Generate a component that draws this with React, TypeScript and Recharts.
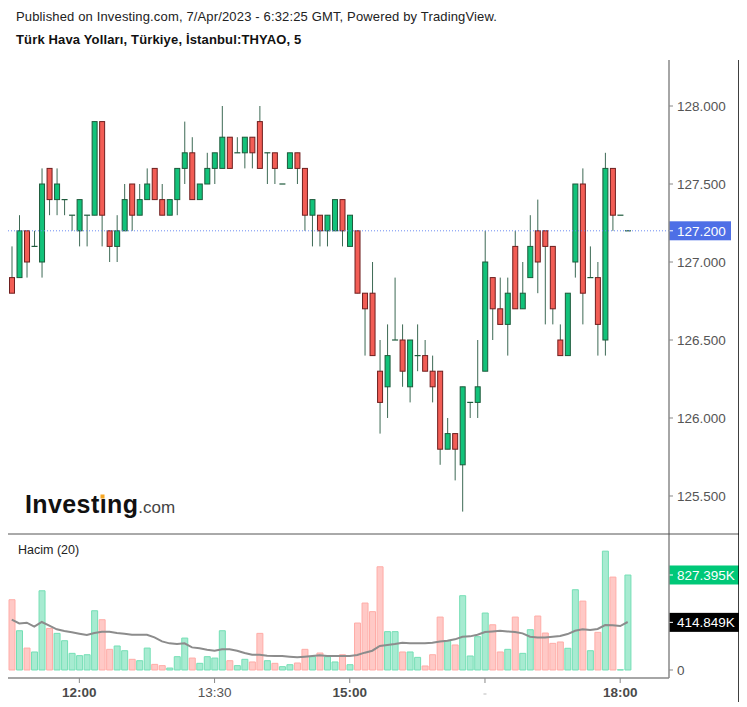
import React from 'react';
import { ComposedChart, Bar, Line, XAxis, YAxis, Cell, ReferenceLine } from 'recharts';

// 5 minute bars, THYAO 7 Apr 2023 (plus a few empty slots on the right)
const times = [
  '11:15', '11:20', '11:25', '11:30', '11:35', '11:40', '11:45', '11:50', '11:55',
  '12:00', '12:05', '12:10', '12:15', '12:20', '12:25', '12:30', '12:35', '12:40', '12:45', '12:50', '12:55',
  '13:00', '13:05', '13:10', '13:15', '13:20', '13:25', '13:30', '13:35', '13:40', '13:45', '13:50', '13:55',
  '14:00', '14:05', '14:10', '14:15', '14:20', '14:25', '14:30', '14:35', '14:40', '14:45', '14:50', '14:55',
  '15:00', '15:05', '15:10', '15:15', '15:20', '15:25', '15:30', '15:35', '15:40', '15:45', '15:50', '15:55',
  '16:00', '16:05', '16:10', '16:15', '16:20', '16:25', '16:30', '16:35', '16:40', '16:45', '16:50', '16:55',
  '17:00', '17:05', '17:10', '17:15', '17:20', '17:25', '17:30', '17:35', '17:40', '17:45', '17:50', '17:55',
  '18:00', '18:05', '18:10', '18:15', '18:20', '18:25', '18:30',
];

const opens = [
  126.9, 126.9, 127.2, 127.1, 127.0, 127.6, 127.4, 127.4, 127.3, 127.2,
  127.3, 127.3, 127.9, 127.2, 127.1, 127.2, 127.5, 127.3, 127.4, 127.6,
  127.4, 127.3, 127.4, 127.6, 127.7, 127.4, 127.5, 127.6, 127.6, 127.8,
  127.7, 127.7, 127.8, 127.9, 127.7, 127.7, 127.5, 127.6, 127.7, 127.6,
  127.3, 127.3, 127.2, 127.2, 127.4, 127.1, 127.2, 126.8, 126.8, 126.3,
  126.2, 126.5, 126.5, 126.2, 126.4, 126.4, 126.3, 126.3, 125.8, 125.9,
  125.7, 126.1, 126.1, 126.3, 126.9, 126.7, 126.6, 127.1, 126.7, 126.9,
  127.2, 127.2, 127.1, 126.5, 126.4, 127.0, 127.5, 126.9, 126.9, 126.5,
  127.6, 127.3, 127.2,
];
const highs = [
  127.1, 127.3, 127.2, 127.2, 127.6, 127.6, 127.6, 127.4, 127.3, 127.4,
  127.3, 127.9, 127.9, 127.2, 127.3, 127.5, 127.5, 127.5, 127.6, 127.6,
  127.5, 127.4, 127.6, 127.9, 127.8, 127.5, 127.7, 127.7, 128.0, 127.8,
  127.8, 127.8, 127.8, 128.0, 127.7, 127.7, 127.5, 127.7, 127.7, 127.6,
  127.4, 127.3, 127.3, 127.4, 127.4, 127.3, 127.2, 126.8, 127.0, 126.5,
  126.6, 126.9, 126.6, 126.5, 126.6, 126.5, 126.4, 126.3, 126.0, 125.9,
  126.2, 126.1, 126.5, 127.2, 126.9, 126.9, 126.9, 127.2, 127.0, 127.3,
  127.4, 127.2, 127.1, 126.6, 126.8, 127.5, 127.6, 127.1, 127.0, 127.7,
  127.6, 127.3, 127.2,
];
const lows = [
  126.8, 126.9, 126.9, 127.1, 126.9, 127.3, 127.3, 127.3, 127.2, 127.1,
  127.1, 127.3, 127.1, 127.0, 127.0, 127.2, 127.2, 127.3, 127.4, 127.4,
  127.3, 127.3, 127.3, 127.5, 127.4, 127.4, 127.5, 127.5, 127.6, 127.6,
  127.7, 127.6, 127.6, 127.6, 127.5, 127.5, 127.5, 127.6, 127.5, 127.2,
  127.1, 127.1, 127.1, 127.2, 127.1, 127.1, 126.8, 126.4, 126.4, 125.9,
  126.0, 126.5, 126.2, 126.1, 126.3, 126.3, 126.1, 125.7, 125.8, 125.6,
  125.4, 126.0, 126.0, 126.3, 126.5, 126.6, 126.4, 126.7, 126.7, 126.9,
  126.8, 126.6, 126.6, 126.4, 126.4, 126.9, 126.6, 126.9, 126.4, 126.4,
  127.2, 127.3, 127.2,
];
const closes = [
  126.8, 127.2, 127.0, 127.1, 127.5, 127.4, 127.5, 127.4, 127.3, 127.4,
  127.3, 127.9, 127.3, 127.1, 127.2, 127.4, 127.3, 127.4, 127.5, 127.4,
  127.3, 127.4, 127.6, 127.7, 127.4, 127.5, 127.6, 127.7, 127.8, 127.6,
  127.7, 127.8, 127.7, 127.6, 127.7, 127.6, 127.5, 127.7, 127.6, 127.3,
  127.4, 127.2, 127.3, 127.4, 127.2, 127.3, 126.8, 126.7, 126.4, 126.1,
  126.4, 126.5, 126.3, 126.5, 126.4, 126.3, 126.2, 125.8, 125.9, 125.8,
  126.2, 126.1, 126.2, 127.0, 126.7, 126.6, 126.8, 126.7, 126.8, 127.1,
  127.0, 127.1, 126.7, 126.4, 126.8, 127.5, 126.8, 126.9, 126.6, 127.6,
  127.3, 127.3, 127.2,
];

// volume in thousands
const volumes = [
  612, 342, 191, 157, 690, 362, 319, 255, 145, 125,
  133, 516, 438, 180, 209, 168, 93, 81, 191, 49,
  38, 17, 116, 278, 104, 58, 116, 104, 342, 81,
  38, 93, 70, 319, 81, 58, 29, 46, 61, 180,
  116, 148, 116, 70, 133, 46, 409, 583, 508, 899,
  334, 334, 157, 157, 110, 35, 133, 461, 255, 218,
  647, 122, 290, 496, 394, 157, 180, 461, 145, 351,
  470, 322, 232, 244, 189, 699, 600, 168, 328, 1035,
  809, 2, 827,
];
// Hacim (20) moving average, in thousands
const volumeMa = [
  438, 406, 412, 377, 418, 386, 354, 339, 328, 316,
  305, 322, 334, 334, 322, 316, 307, 307, 307, 284,
  249, 232, 226, 232, 197, 189, 177, 168, 180, 180,
  168, 148, 133, 133, 125, 122, 122, 116, 110, 116,
  122, 128, 122, 122, 122, 122, 130, 151, 168, 209,
  218, 226, 238, 232, 232, 232, 238, 249, 255, 267,
  290, 293, 307, 331, 336, 342, 336, 331, 319, 290,
  284, 284, 290, 296, 313, 342, 354, 348, 357, 391,
  389, 383, 418,
];

const priceTicks = [125.5, 126, 126.5, 127, 127.5, 128];
const timeTicks = ['12:00', '13:30', '15:00', '16:30', '18:00'];
const lastPrice = 127.2;
const lastVolume = 827.395;
const lastVolumeMa = 414.849;

const FONT = '"Liberation Sans", Arial, Helvetica, sans-serif';
const UP = '#12c27a';
const UP_BORDER = '#1d5a3b';
const DOWN = '#f25d55';
const DOWN_BORDER = '#6e1f1f';
const WICK = '#3d6a55';

const data = times.map((time, i) =>
  i < opens.length
    ? {
        time,
        open: opens[i],
        high: highs[i],
        low: lows[i],
        close: closes[i],
        range: [lows[i], highs[i]],
        vol: volumes[i],
        ma: volumeMa[i],
      }
    : { time }
);

const Candle = (props: any) => {
  const { x, y, width, height, payload } = props;
  if (!payload || payload.open == null) return null;
  const { open, high, low, close } = payload;
  const cx = x + width / 2;
  const top = Math.min(y, y + height);
  const h = Math.abs(height);
  const ppu = high > low ? h / (high - low) : 0;
  const yOf = (v: number) => top + (high - v) * ppu;
  const up = close >= open;
  const bTop = yOf(Math.max(open, close));
  const bBot = yOf(Math.min(open, close));
  return (
    <g>
      {h > 0 && <line x1={cx} x2={cx} y1={top} y2={top + h} stroke={WICK} strokeWidth={1} />}
      {bBot - bTop > 0.5 ? (
        <rect
          x={cx - 2.5}
          y={bTop}
          width={5}
          height={bBot - bTop}
          fill={up ? UP : DOWN}
          stroke={up ? UP_BORDER : DOWN_BORDER}
          strokeWidth={1}
        />
      ) : (
        <line x1={cx - 3} x2={cx + 3} y1={bTop} y2={bTop} stroke={UP_BORDER} strokeWidth={1.2} />
      )}
    </g>
  );
};

const Badge = ({ viewBox, text, fill, w }: any) => {
  if (!viewBox) return null;
  const bx = viewBox.x + viewBox.width;
  const by = viewBox.y;
  return (
    <g>
      <rect x={bx} y={by - 9.5} width={w} height={19} fill={fill} />
      <line x1={bx} x2={bx + 4} y1={by} y2={by} stroke="#fff" strokeWidth={1} />
      <text x={bx + 8} y={by + 5} fontSize={13.5} fill="#fff" fontFamily={FONT}>
        {text}
      </text>
    </g>
  );
};

const TimeTick = (props: any) => {
  const { x, y, payload } = props;
  const label = payload.value;
  if (label === '16:30') {
    return (
      <line x1={x - 1.5} x2={x + 1.5} y1={y + 9} y2={y + 9} stroke="#bbb" strokeWidth={1} />
    );
  }
  const bold = label !== '13:30';
  return (
    <text
      x={x}
      y={y + 12}
      textAnchor="middle"
      fontSize={13.5}
      fontWeight={bold ? 700 : 400}
      fill={bold ? '#4a4a4a' : '#555'}
      fontFamily={FONT}
    >
      {label}
    </text>
  );
};

export default function App() {
  return (
    <div style={{ position: 'relative', width: 731, height: 699, fontFamily: FONT, background: '#fff' }}>
      <div style={{ position: 'absolute', left: 0, top: 52 }}>
        <ComposedChart width={731} height={474} data={data} margin={{ top: 0, right: 0, bottom: 0, left: 0 }}>
          <XAxis dataKey="time" hide />
          <YAxis
            orientation="right"
            width={70}
            domain={[125.2564, 128.2949]}
            allowDataOverflow
            ticks={priceTicks}
            tickFormatter={(v: number) => v.toFixed(3)}
            axisLine={{ stroke: '#888', strokeWidth: 1.5 }}
            tickLine={{ stroke: '#888' }}
            tickSize={4}
            tickMargin={4}
            tick={{ fill: '#555', fontSize: 13.5, fontFamily: FONT, textAnchor: 'start' }}
          />
          <ReferenceLine
            y={lastPrice}
            stroke="#6d8cf2"
            strokeDasharray="1 2"
            label={(p: any) => <Badge {...p} text={lastPrice.toFixed(3)} fill="#4e6fe6" w={62} />}
          />
          <Bar dataKey="range" barSize={6} shape={<Candle />} isAnimationActive={false} />
        </ComposedChart>
      </div>

      <div style={{ position: 'absolute', left: 0, top: 526 }}>
        <ComposedChart width={731} height={168} data={data} margin={{ top: 0, right: 0, bottom: 0, left: 0 }}>
          <XAxis
            dataKey="time"
            height={24}
            ticks={timeTicks}
            interval={0}
            axisLine={{ stroke: '#888', strokeWidth: 1.5 }}
            tickLine={{ stroke: '#888' }}
            tickSize={5}
            tick={<TimeTick />}
          />
          <YAxis
            orientation="right"
            width={70}
            domain={[-69.7, 1184.4]}
            allowDataOverflow
            ticks={[0]}
            axisLine={{ stroke: '#888', strokeWidth: 1.5 }}
            tickLine={{ stroke: '#888' }}
            tickSize={4}
            tickMargin={4}
            tick={{ fill: '#555', fontSize: 13.5, fontFamily: FONT, textAnchor: 'start' }}
          />
          <Bar dataKey="vol" barSize={6} isAnimationActive={false}>
            {data.map((d: any, i) => {
              const up = d.close >= d.open;
              return (
                <Cell
                  key={i}
                  fill={up ? '#a7ebd1' : '#ffc9c6'}
                  stroke={up ? '#74dfb5' : '#ffaca7'}
                  strokeWidth={1}
                />
              );
            })}
          </Bar>
          <Line
            dataKey="ma"
            type="linear"
            stroke="#8c8c8c"
            strokeWidth={2}
            dot={false}
            isAnimationActive={false}
          />
          <ReferenceLine
            y={lastVolume}
            stroke="none"
            label={(p: any) => <Badge {...p} text={lastVolume.toFixed(3) + 'K'} fill="#00c878" w={70} />}
          />
          <ReferenceLine
            y={lastVolumeMa}
            stroke="none"
            label={(p: any) => <Badge {...p} text={lastVolumeMa.toFixed(3) + 'K'} fill="#000" w={70} />}
          />
        </ComposedChart>
      </div>

      <svg
        width={731}
        height={699}
        style={{ position: 'absolute', left: 0, top: 0, pointerEvents: 'none' }}
      >
        <g transform="translate(-8,-8)">
          <text x={16} y={21} fontSize={13} letterSpacing={0.15} fill="#222" fontFamily={FONT}>
            Published on Investing.com, 7/Apr/2023 - 6:32:25 GMT, Powered by TradingView.
          </text>
          <text x={16} y={43.5} fontSize={13} letterSpacing={0.15} fontWeight={700} fill="#111" fontFamily={FONT}>
            Türk Hava Yolları, Türkiye, İstanbul:THYAO, 5
          </text>
          <text x={25} y={513} fontSize={25} fontWeight={700} fill="#111" fontFamily={FONT} letterSpacing={0.4}>
            Investıng
            <tspan fontSize={17} fontWeight={400} fill="#444" letterSpacing={0}>
              .com
            </tspan>
          </text>
          <rect x={100.5} y={494.5} width={4} height={4} fill="#f6a623" />
          <text x={18} y={554} fontSize={12.5} fill="#222" fontFamily={FONT}>
            Hacim (20)
          </text>
          <line x1={8} x2={739} y1={534} y2={534} stroke="#555" strokeWidth={1} />
          <line x1={739} x2={739} y1={60} y2={702} stroke="#000" strokeWidth={1.5} />
        </g>
      </svg>
    </div>
  );
}
